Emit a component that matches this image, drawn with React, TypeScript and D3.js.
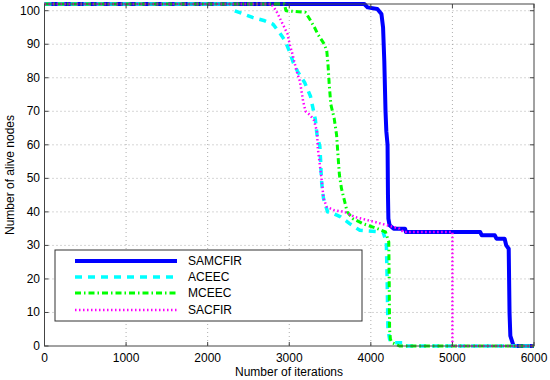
import React from 'react';
import * as d3 from 'd3';

// iterations / alive nodes
const samcfirX = [0, 3920, 3960, 4080, 4130, 4150, 4165, 4180, 4190, 4205, 4210, 4215, 4230, 4280, 4420, 4430, 5340, 5360, 5520, 5540, 5640, 5660, 5690, 5700, 5710, 5750, 6000];
const samcfirY = [102, 102, 101, 100.5, 99, 95, 85, 70, 64, 60, 45, 38, 36, 35, 35, 34, 34, 33, 33, 32, 32, 30, 29, 10, 3, 0, 0];

const aceecX = [0, 2300, 2330, 2550, 2700, 2800, 2880, 2950, 3000, 3050, 3100, 3190, 3260, 3290, 3320, 3340, 3375, 3385, 3390, 3400, 3420, 3470, 3540, 3630, 3740, 3865, 4150, 4190, 4200, 4210, 4230, 4250, 4400, 4420, 6000];
const aceecY = [102, 102, 100, 98, 97, 96, 93.5, 91, 88, 84.5, 82, 78.5, 74.5, 71, 67.5, 63, 59.5, 55, 52, 48, 44, 40, 39.5, 38.5, 36.5, 34.5, 34, 31, 20, 5, 2, 1, 1, 0, 0];

const mceecX = [0, 2940, 2960, 3200, 3250, 3310, 3350, 3430, 3460, 3475, 3490, 3510, 3550, 3580, 3600, 3615, 3640, 3670, 3710, 3780, 3900, 4080, 4180, 4220, 4225, 4230, 4240, 4260, 4350, 6000];
const mceecY = [102, 102, 100, 99.5, 97.5, 95, 93, 90, 88, 84, 78, 72, 68, 63, 56, 51, 47, 44, 40, 38, 36.5, 35, 34, 31, 20, 5, 2, 1, 0, 0];

const sacfirX = [0, 2780, 2840, 2880, 2920, 2980, 3005, 3040, 3070, 3090, 3130, 3150, 3170, 3200, 3250, 3300, 3340, 3350, 3375, 3400, 3420, 3460, 3550, 3680, 3800, 4050, 4200, 4350, 4400, 5000, 5000, 6000];
const sacfirY = [102, 102, 100, 98, 96, 93, 90, 87, 84, 82, 79, 76, 73, 70, 69, 67.5, 64, 59, 54, 49, 44, 41.5, 40.5, 40, 38.5, 37, 36, 35, 34, 34, 0, 0];

const xTicks = [0, 1000, 2000, 3000, 4000, 5000, 6000];
const yTicks = [0, 10, 20, 30, 40, 50, 60, 70, 80, 90, 100];

const series = [
  { name: 'SAMCFIR', xs: samcfirX, ys: samcfirY, color: '#0000ff', width: 4, dash: 'none' },
  { name: 'ACEEC', xs: aceecX, ys: aceecY, color: '#00ffff', width: 3.5, dash: '7,6' },
  { name: 'MCEEC', xs: mceecX, ys: mceecY, color: '#00ff00', width: 3, dash: '6,3,1.5,3' },
  { name: 'SACFIR', xs: sacfirX, ys: sacfirY, color: '#ff00ff', width: 2.5, dash: '1.5,2.5' },
];

const App = () => {
  const left = 44.5;
  const right = 534;
  const top = 4;
  const bottom = 346;
  const font = 'Liberation Sans, Arial, sans-serif';
  const fs = 12;

  const x = d3.scaleLinear().domain([0, 6000]).range([left, right]);
  const y = d3.scaleLinear().domain([0, 102]).range([bottom, top]);

  const line = d3.line<[number, number]>()
    .x(d => x(d[0]))
    .y(d => y(d[1]));

  const legend = { x0: 55, y0: 250, x1: 362, y1: 321 };
  const rowY = [261, 277, 293, 310];

  return (
    <svg width={550} height={380} style={{ position: 'absolute', left: 0, top: 0, background: '#fff' }}>
      <rect x={0} y={0} width={550} height={380} fill="#fff" />
      {/* grid */}
      {xTicks.slice(1, -1).map(t => (
        <line key={'gx' + t} x1={x(t)} x2={x(t)} y1={top} y2={bottom} stroke="#999" strokeWidth={0.8} strokeDasharray="1,3" />
      ))}
      {yTicks.slice(1).map(t => (
        <line key={'gy' + t} x1={left} x2={right} y1={y(t)} y2={y(t)} stroke="#999" strokeWidth={0.8} strokeDasharray="1,3" />
      ))}

      {/* series */}
      {series.map(s => (
        <path
          key={s.name}
          d={line(s.xs.map((v, i) => [v, s.ys[i]] as [number, number])) || ''}
          fill="none"
          stroke={s.color}
          strokeWidth={s.width}
          strokeDasharray={s.dash}
          strokeLinejoin="round"
        />
      ))}

      {/* box and ticks */}
      <rect x={left} y={top} width={right - left} height={bottom - top} fill="none" stroke="#444" strokeWidth={1} />
      {xTicks.map(t => (
        <g key={'tx' + t}>
          <line x1={x(t)} x2={x(t)} y1={bottom} y2={bottom - 4} stroke="#444" />
          <line x1={x(t)} x2={x(t)} y1={top} y2={top + 4} stroke="#444" />
          <text x={x(t)} y={362} textAnchor="middle" fontFamily={font} fontSize={fs} fill="#000">{t}</text>
        </g>
      ))}
      {yTicks.map(t => (
        <g key={'ty' + t}>
          <line x1={left} x2={left + 4} y1={y(t)} y2={y(t)} stroke="#444" />
          <line x1={right} x2={right - 4} y1={y(t)} y2={y(t)} stroke="#444" />
          <text x={40} y={y(t) + 4} textAnchor="end" fontFamily={font} fontSize={fs} fill="#000">{t}</text>
        </g>
      ))}

      {/* axis labels */}
      <text x={289} y={376} textAnchor="middle" fontFamily={font} fontSize={fs} fill="#000">Number of iterations</text>
      <text transform={`translate(14, ${(top + bottom) / 2}) rotate(-90)`} textAnchor="middle" fontFamily={font} fontSize={fs} fill="#000">Number of alive nodes</text>

      {/* legend */}
      <rect x={legend.x0} y={legend.y0} width={legend.x1 - legend.x0} height={legend.y1 - legend.y0} fill="#fff" stroke="#333" strokeWidth={1} />
      {series.map((s, i) => (
        <g key={'lg' + s.name}>
          <line x1={75} x2={177} y1={rowY[i]} y2={rowY[i]} stroke={s.color} strokeWidth={s.width} strokeDasharray={s.dash} />
          <text x={188} y={rowY[i] + 4} fontFamily={font} fontSize={fs} fill="#000">{s.name}</text>
        </g>
      ))}
    </svg>
  );
};

export default App;
